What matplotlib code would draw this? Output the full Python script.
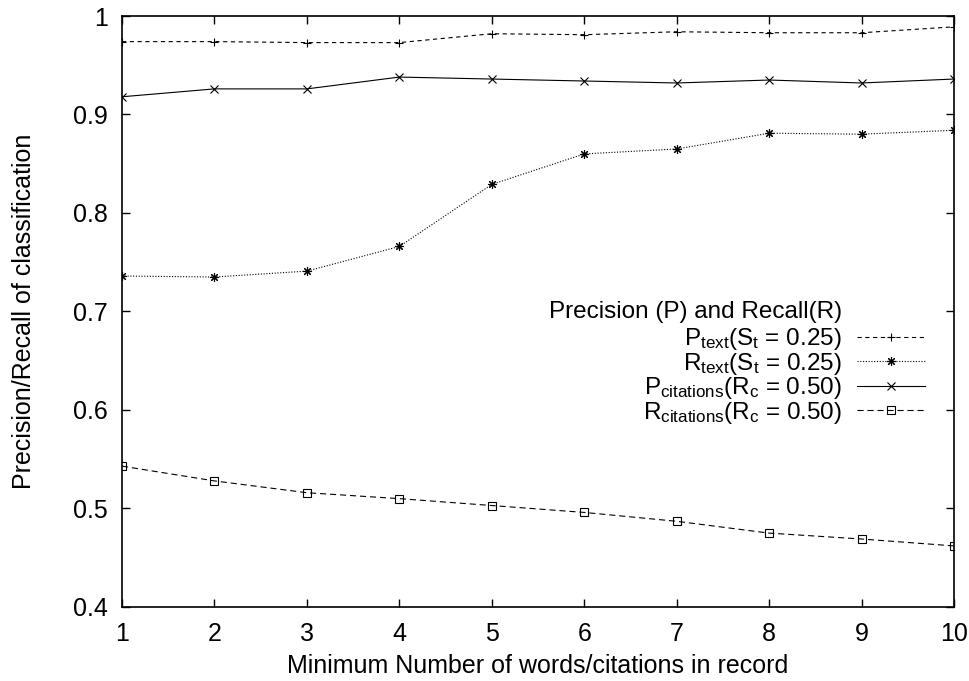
import matplotlib
matplotlib.use("Agg")
from matplotlib import pyplot as plt

plt.rcParams['font.family'] = ['Liberation Sans', 'DejaVu Sans']
plt.rcParams['mathtext.fontset'] = 'custom'
plt.rcParams['mathtext.rm'] = 'Liberation Sans'
plt.rcParams['mathtext.it'] = 'Liberation Sans:italic'

# data
min_records = [1, 2, 3, 4, 5, 6, 7, 8, 9, 10]
p_text = [0.974, 0.974, 0.973, 0.973, 0.982, 0.981, 0.984, 0.983, 0.983, 0.989]
r_text = [0.736, 0.735, 0.741, 0.766, 0.829, 0.860, 0.865, 0.881, 0.880, 0.884]
p_citations = [0.918, 0.926, 0.926, 0.938, 0.936, 0.934, 0.932, 0.935, 0.932, 0.936]
r_citations = [0.543, 0.528, 0.516, 0.510, 0.503, 0.496, 0.487, 0.475, 0.469, 0.462]

y_ticks = [0.4, 0.5, 0.6, 0.7, 0.8, 0.9, 1.0]
y_tick_labels = ["0.4", "0.5", "0.6", "0.7", "0.8", "0.9", "1"]

# legend labels, subscripts as mathtext
lbl_p_text = r"P$_\mathregular{text}$(S$_\mathregular{t}$ = 0.25)"
lbl_r_text = r"R$_\mathregular{text}$(S$_\mathregular{t}$ = 0.25)"
lbl_p_cit = r"P$_\mathregular{citations}$(R$_\mathregular{c}$ = 0.50)"
lbl_r_cit = r"R$_\mathregular{citations}$(R$_\mathregular{c}$ = 0.50)"

fig = plt.figure(figsize=(9.69, 6.81), dpi=100)
ax = fig.add_axes([0.1259, 0.1087, 0.8586, 0.8678])

ax.plot(min_records, p_text, color="black", lw=0.8, linestyle=(0, (3.8, 3.2)),
        marker="+", ms=6, mew=0.8, label=lbl_p_text)
ax.plot(min_records, r_text, color="black", lw=0.8, linestyle=(0, (1, 1.5)),
        marker=(8, 2, 0), ms=6.5, mew=0.8, label=lbl_r_text)
ax.plot(min_records, p_citations, color="black", lw=0.8, linestyle="-",
        marker="x", ms=6, mew=0.8, label=lbl_p_cit)
ax.plot(min_records, r_citations, color="black", lw=0.8, linestyle=(0, (5.5, 3.5)),
        marker="s", ms=5.5, mew=0.8, mfc="none", label=lbl_r_cit)

ax.set_xlim(1, 10)
ax.set_ylim(0.4, 1.0)
ax.set_xticks(min_records)
ax.set_yticks(y_ticks)
ax.set_yticklabels(y_tick_labels)
ax.tick_params(direction="in", length=6, width=1, top=True, right=True, labelsize=18)
ax.tick_params(axis="x", pad=11)
ax.tick_params(axis="y", pad=10)
for s in ax.spines.values():
    s.set_linewidth(1.2)

ax.set_xlabel("Minimum Number of words/citations in record", fontsize=18)
ax.set_ylabel("Precision/Recall of classification", fontsize=18)
ax.xaxis.set_label_coords(0.5, -0.080)
ax.yaxis.set_label_coords(-0.103, 0.5)

ax.text(0.8654, 0.499, "Precision (P) and Recall(R)", transform=ax.transAxes,
        ha="right", va="center", fontsize=17.5)
ax.legend(loc="upper right", bbox_to_anchor=(0.965, 0.475), frameon=False,
          markerfirst=False, fontsize=17.5, handlelength=2.8, handletextpad=0.62,
          borderpad=0, borderaxespad=0, labelspacing=-0.06)

plt.savefig("out.png", dpi=100)
plt.close()
